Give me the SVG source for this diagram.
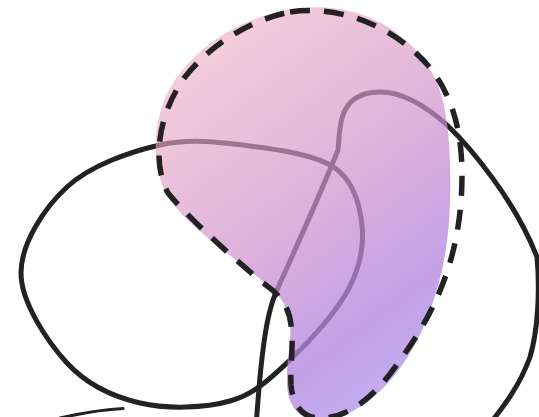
<svg xmlns="http://www.w3.org/2000/svg" width="539" height="417" viewBox="0 0 539 417">
  <defs>
    <linearGradient id="blobGrad" gradientUnits="userSpaceOnUse" x1="180" y1="70" x2="420" y2="390">
      <stop offset="0" stop-color="#edadc3" stop-opacity="0.62"/>
      <stop offset="0.45" stop-color="#d091cd" stop-opacity="0.7"/>
      <stop offset="0.78" stop-color="#b385df" stop-opacity="0.78"/>
      <stop offset="1" stop-color="#b59bef" stop-opacity="0.8"/>
    </linearGradient>
    <style>
      .curve { fill: none; stroke: #222222; stroke-width: 5; stroke-linejoin: round; stroke-linecap: round; }
      .outline { fill: none; stroke: #222222; stroke-width: 5.5; stroke-dasharray: 20 14; }
    </style>
  </defs>
  <rect width="539" height="417" fill="#ffffff"/>
  <g id="connectors">
    <path class="curve" d="M160,145 C129.5,151.8 90.2,165.7 67,187 C43.8,208.3 21,243.7 21,273 C21,302.3 47.2,341.3 67,363 C86.8,384.7 112.8,396.7 140,403 C167.2,409.3 205,408.2 230,401 C255,393.8 270.3,378.5 290,360 C309.7,341.5 336,312.5 348,290 C360,267.5 364.2,245.3 362,225 C359.8,204.7 353.7,181.2 335,168 C316.3,154.8 279.2,149.8 250,146 C220.8,142.2 190.5,138.2 160,145 Z"/>
    <path class="curve" d="M255,440 C257,415 259,380 263,350 C266,325 270,305 277,290 C295,250 320,195 338,150 C339,140 339,130 342,118 C347,100 360,92 380,92 C405,92 428,108 447,125 C470,147 515,200 537,257 C540,290 538,330 530,357 C520,385 505,405 485,430"/>
    <path d="M60,418 Q95,410 123,408.5" fill="none" stroke="#222222" stroke-width="3.2" stroke-linecap="round"/>
  </g>
  <g id="blob">
    <path d="M300,8 C360,2 410,30 435,78 C450,110 451,160 450,200 C449,250 440,290 420,335 C400,375 370,410 330,420 C305,426 288,410 287,385 C286,360 292,340 290,325 C288,305 280,295 265,283 C235,258 190,228 170,200 C150,170 152,120 170,88 C195,45 245,14 300,8 Z" fill="url(#blobGrad)"/>
    <path class="outline" d="M290,12 C340,5 390,25 425,62 C452,92 462,130 462,175 C462,240 445,300 400,360 C380,390 355,415 325,418 C305,420 293,408 291,385 C290,365 294,345 291,325 C289,305 278,293 262,282 C238,262 190,220 168,193 C152,165 157,115 185,77 C210,45 250,20 290,12 Z"/>
  </g>
</svg>
